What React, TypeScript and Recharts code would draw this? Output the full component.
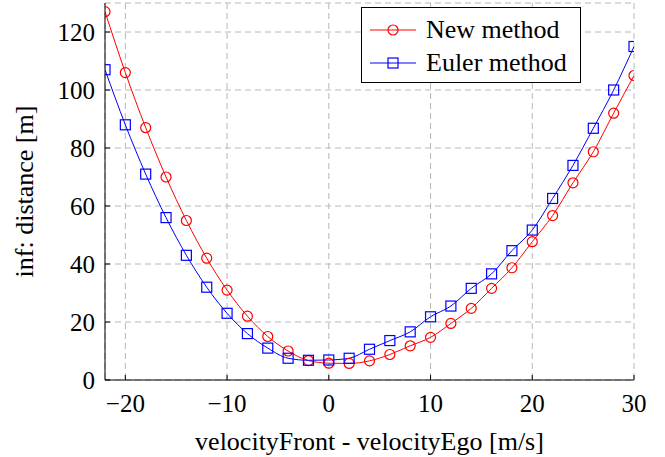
import React from "react";
import {
  ComposedChart, Line, XAxis, YAxis, CartesianGrid,
} from "recharts";

const speedDiff = [-22, -20, -18, -16, -14, -12, -10, -8, -6, -4, -2, 0, 2, 4, 6, 8, 10, 12, 14, 16, 18, 20, 22, 24, 26, 28, 30];
const newMethod = [127, 106, 87, 70, 55, 42, 31, 22, 15, 10, 6.7, 5.8, 5.7, 6.6, 8.8, 11.8, 14.7, 19.5, 24.7, 31.6, 38.7, 47.7, 56.7, 68, 78.7, 92, 105];
const eulerMethod = [107, 88, 71, 56, 43, 32, 23, 16, 11, 7.5, 6.8, 6.9, 7.5, 10.6, 13.6, 16.6, 21.8, 25.5, 31.6, 36.6, 44.6, 51.7, 62.6, 74, 86.8, 100, 115];
const xTicks = [-20, -10, 0, 10, 20, 30];
const yTicks = [0, 20, 40, 60, 80, 100, 120];

const FONT = "Liberation Serif";
const RED = "#ff0000";
const BLUE = "#0000ff";

const data = speedDiff.map((x, i) => ({ x, newM: newMethod[i], euler: eulerMethod[i] }));

const fmtTick = (v: number) => String(v).replace("-", "\u2212");

// tick labels drawn by hand so the serif font sticks
function XTick(props: any) {
  const { x, y, payload } = props;
  return (
    <text x={x} y={y} textAnchor="middle" fill="#000" fontSize={25} style={{ fontFamily: FONT }}>
      {fmtTick(payload.value)}
    </text>
  );
}
function YTick(props: any) {
  const { x, y, payload } = props;
  return (
    <text x={x} y={y} dy={8.5} textAnchor="end" fill="#000" fontSize={25} style={{ fontFamily: FONT }}>
      {fmtTick(payload.value)}
    </text>
  );
}

function XTitle(props: any) {
  const vb = props.viewBox || { x: 105, y: 380, width: 529, height: 77 };
  return (
    <text x={vb.x + vb.width / 2} y={450} textAnchor="middle" fill="#000" fontSize={26} style={{ fontFamily: FONT }}>
      velocityFront - velocityEgo [m/s]
    </text>
  );
}
function YTitle(props: any) {
  const vb = props.viewBox || { x: 0, y: 3, width: 105, height: 377 };
  const cy = vb.y + vb.height / 2;
  return (
    <text x={33} y={cy} transform={`rotate(-90, 33, ${cy})`} textAnchor="middle" fill="#000" fontSize={26} style={{ fontFamily: FONT }}>
      inf: distance [m]
    </text>
  );
}

// square marker (pgfplots "square")
function SquareDot(props: any) {
  const { cx, cy, index } = props;
  if (cx == null || cy == null) return null;
  return <rect key={`sq-${index}`} x={cx - 5} y={cy - 5} width={10} height={10} fill="none" stroke={BLUE} strokeWidth={1.2} />;
}

function LegendBox() {
  const row = (label: string, color: string, square: boolean) => (
    <div style={{ display: "flex", alignItems: "center", height: 33 }}>
      <svg width={50} height={20} style={{ marginRight: 6 }}>
        <line x1={0} y1={10} x2={46} y2={10} stroke={color} strokeWidth={1} />
        {square
          ? <rect x={18} y={5} width={10} height={10} fill="none" stroke={color} strokeWidth={1.2} />
          : <circle cx={23} cy={10} r={5} fill="none" stroke={color} strokeWidth={1.2} />}
      </svg>
      <span style={{ fontFamily: FONT, fontSize: 26, color: "#000", whiteSpace: "nowrap" }}>{label}</span>
    </div>
  );
  return (
    <div style={{
      position: "absolute", left: 361, top: 7,
      border: "1px solid #000", background: "#fff", width: 220, height: 76,
      boxSizing: "border-box", padding: "5px 0 0 8px",
    }}>
      {row("New method", RED, false)}
      {row("Euler method", BLUE, true)}
    </div>
  );
}

export default function App() {
  return (
    <div style={{ position: "absolute", left: 0, top: 0, width: 665, height: 457, background: "#fff", fontFamily: FONT }}>
      <ComposedChart width={665} height={457} data={data} margin={{ top: 3, right: 31, left: 0, bottom: 0 }}>
        <CartesianGrid stroke="#b8b8b8" strokeDasharray="6 4" strokeWidth={1} />
        <XAxis
          dataKey="x"
          type="number"
          domain={[-22, 30]}
          ticks={xTicks}
          allowDataOverflow
          height={77}
          stroke="#000"
          tickSize={-5}
          tickMargin={37}
          tick={<XTick />}
          label={{ content: (p: any) => <XTitle {...p} /> }}
        />
        <XAxis
          xAxisId="top"
          orientation="top"
          dataKey="x"
          type="number"
          domain={[-22, 30]}
          ticks={xTicks}
          allowDataOverflow
          height={0}
          stroke="#000"
          tickSize={-5}
          tick={false}
        />
        <YAxis
          type="number"
          domain={[0, 130]}
          ticks={yTicks}
          allowDataOverflow
          width={105}
          stroke="#000"
          tickSize={-5}
          tickMargin={15}
          tick={<YTick />}
          label={{ content: (p: any) => <YTitle {...p} /> }}
        />
        <YAxis
          yAxisId="right"
          orientation="right"
          type="number"
          domain={[0, 130]}
          ticks={yTicks}
          allowDataOverflow
          width={0}
          stroke="#000"
          tickSize={-5}
          tick={false}
        />
        <Line
          type="monotone"
          dataKey="newM"
          name="New method"
          stroke={RED}
          strokeWidth={1}
          dot={{ r: 5, fill: "none", stroke: RED, strokeWidth: 1.2 }}
          activeDot={false}
          isAnimationActive={false}
        />
        <Line
          type="monotone"
          dataKey="euler"
          name="Euler method"
          stroke={BLUE}
          strokeWidth={1}
          dot={SquareDot}
          activeDot={false}
          isAnimationActive={false}
        />
      </ComposedChart>
      <LegendBox />
    </div>
  );
}
